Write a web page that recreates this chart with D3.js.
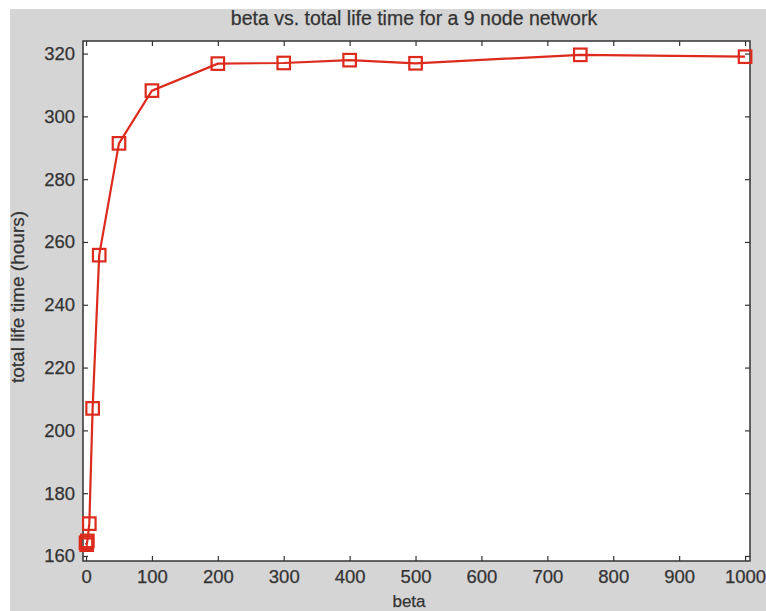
<!DOCTYPE html>
<html lang="en">
<head>
    <meta charset="UTF-8">
    <title>beta vs. total life time</title>
    <script src="https://d3js.org/d3.v7.min.js"></script>
    <style>
        body { margin: 0; background: #fff; }
        text { font-family: "Liberation Sans", Arial, sans-serif; fill: #333; stroke: #333; stroke-width: 0.25px; }
    </style>
</head>
<body>
    <div id="chart"></div>
    <script>
        // data
        var betas = [0, 1, 2, 5, 10, 20, 50, 100, 200, 300, 400, 500, 750, 1000];
        var lifeTimes = [164.2, 163.6, 164.8, 170.3, 207.0, 255.8, 291.4, 308.2, 316.8, 317.0, 317.9, 316.9, 319.6, 319.0];
        var xTicks = [0, 100, 200, 300, 400, 500, 600, 700, 800, 900, 1000];
        var yTicks = [160, 180, 200, 220, 240, 260, 280, 300, 320];

        var W = 766, H = 611;
        var plot = { left: 83, top: 41, right: 750, bottom: 561 };
        var red = "#dc2a1c";

        var svg = d3.select("#chart").append("svg").attr("width", W).attr("height", H);

        // grey figure background
        svg.append("rect").attr("x", 10).attr("y", 9).attr("width", W - 10).attr("height", H - 9).attr("fill", "#d5d5d5");
        svg.append("rect").attr("x", plot.left).attr("y", plot.top)
            .attr("width", plot.right - plot.left).attr("height", plot.bottom - plot.top).attr("fill", "#fff");

        var x = d3.scaleLinear().domain([-4.6, 1007.5]).range([plot.left, plot.right]);
        var y = d3.scaleLinear().domain([158.4, 324]).range([plot.bottom, plot.top]);

        // axes with inward ticks (matlab style), box on
        var bottomAx = svg.append("g").attr("transform", "translate(0," + plot.bottom + ")")
            .call(d3.axisBottom(x).tickValues(xTicks).tickSize(-5).tickPadding(9).tickFormat(d3.format("d")));
        var topAx = svg.append("g").attr("transform", "translate(0," + plot.top + ")")
            .call(d3.axisTop(x).tickValues(xTicks).tickSize(-5).tickFormat(""));
        var leftAx = svg.append("g").attr("transform", "translate(" + plot.left + ",0)")
            .call(d3.axisLeft(y).tickValues(yTicks).tickSize(-5).tickPadding(8).tickFormat(d3.format("d")));
        var rightAx = svg.append("g").attr("transform", "translate(" + plot.right + ",0)")
            .call(d3.axisRight(y).tickValues(yTicks).tickSize(-5).tickFormat(""));

        [bottomAx, topAx, leftAx, rightAx].forEach(function(g) {
            g.select(".domain").remove();
            g.selectAll(".tick line").attr("stroke", "#333").attr("stroke-width", 1.2);
            g.selectAll(".tick text").style("font-size", "18.5px").attr("fill", "#333");
        });
        svg.append("rect").attr("x", plot.left).attr("y", plot.top)
            .attr("width", plot.right - plot.left).attr("height", plot.bottom - plot.top)
            .attr("fill", "none").attr("stroke", "#333").attr("stroke-width", 1.5);

        var pts = betas.map(function(b, i) { return [b, lifeTimes[i]]; });

        var line = d3.line().x(function(d) { return x(d[0]); }).y(function(d) { return y(d[1]); });
        svg.append("path").datum(pts).attr("d", line)
            .attr("fill", "none").attr("stroke", red).attr("stroke-width", 2.2);

        var s = 12.5;
        svg.selectAll(".mk").data(pts).enter().append("rect")
            .attr("class", "mk")
            .attr("x", function(d) { return x(d[0]) - s / 2; })
            .attr("y", function(d) { return y(d[1]) - s / 2; })
            .attr("width", s).attr("height", s)
            .attr("fill", "none").attr("stroke", red).attr("stroke-width", 2.2);

        // title and labels
        svg.append("text").attr("x", 414).attr("y", 25).attr("text-anchor", "middle")
            .style("font-size", "19.5px").text("beta vs. total life time for a 9 node network");
        svg.append("text").attr("x", 409).attr("y", 607).attr("text-anchor", "middle")
            .style("font-size", "17px").text("beta");
        svg.append("text").attr("transform", "translate(24,297) rotate(-90)").attr("text-anchor", "middle")
            .style("font-size", "19px").text("total life time (hours)");
    </script>
</body>
</html>
